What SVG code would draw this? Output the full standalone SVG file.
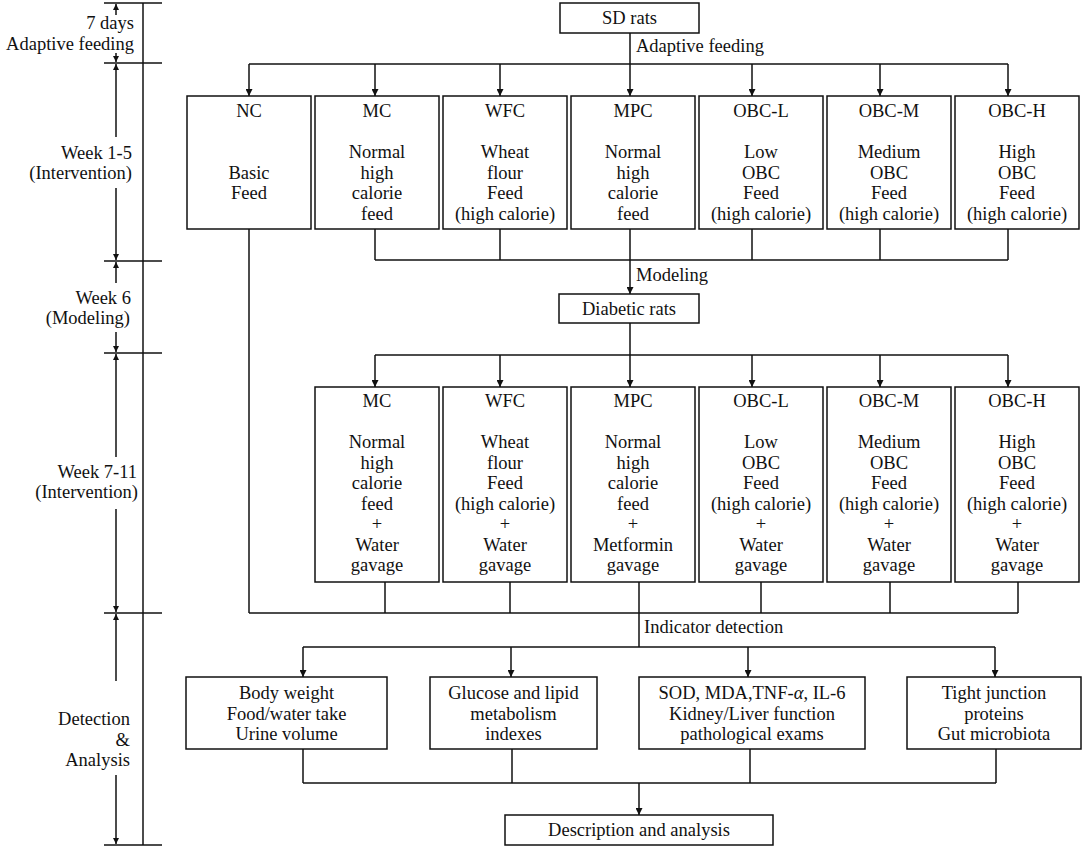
<svg xmlns="http://www.w3.org/2000/svg" width="1084" height="848" viewBox="0 0 1084 848">
<style>
text{font-family:"Liberation Serif","Times New Roman",serif;font-size:18.5px;fill:#111;}
.c{text-anchor:middle;}
.e{text-anchor:end;}
.box{fill:#fff;stroke:#111;stroke-width:1.5;}
.ln{fill:none;stroke:#111;stroke-width:1.5;}
.ar{fill:none;stroke:#111;stroke-width:1.5;marker-end:url(#ah);}
.tl{fill:none;stroke:#111;stroke-width:1.5;marker-end:url(#th);}
</style>
<defs>
<marker id="ah" viewBox="0 0 10 10" refX="10" refY="5" markerWidth="8" markerHeight="7" markerUnits="userSpaceOnUse" orient="auto"><path d="M0,0 L10,5 L0,10 z" fill="#111"/></marker>
<marker id="th" viewBox="0 0 10 10" refX="10" refY="5" markerWidth="7" markerHeight="6" markerUnits="userSpaceOnUse" orient="auto"><path d="M0,0 L10,5 L0,10 z" fill="#111"/></marker>
</defs>
<rect width="1084" height="848" fill="#fff"/>

<g id="timeline">
<line class="ln" x1="143" y1="3" x2="143" y2="845"/>
<line class="ln" x1="104" y1="3" x2="162" y2="3"/>
<line class="ln" x1="104" y1="63" x2="162" y2="63"/>
<line class="ln" x1="104" y1="261" x2="162" y2="261"/>
<line class="ln" x1="104" y1="353" x2="162" y2="353"/>
<line class="ln" x1="104" y1="613" x2="162" y2="613"/>
<line class="ln" x1="104" y1="845" x2="162" y2="845"/>
<line class="tl" x1="116" y1="15" x2="116" y2="4"/>
<line class="tl" x1="116" y1="53" x2="116" y2="62"/>
<line class="tl" x1="116" y1="137" x2="116" y2="64"/>
<line class="tl" x1="116" y1="188" x2="116" y2="260"/>
<line class="tl" x1="116" y1="283" x2="116" y2="262"/>
<line class="tl" x1="116" y1="332" x2="116" y2="352"/>
<line class="tl" x1="116" y1="457" x2="116" y2="354"/>
<line class="tl" x1="116" y1="509" x2="116" y2="612"/>
<line class="tl" x1="116" y1="681" x2="116" y2="614"/>
<line class="tl" x1="116" y1="775" x2="116" y2="844"/>
<text class="e" x="134" y="29">7 days</text>
<text class="e" x="134" y="50">Adaptive feeding</text>
<text class="e" x="132" y="159">Week 1-5</text>
<text class="e" x="132" y="179">(Intervention)</text>
<text class="e" x="131" y="304">Week 6</text>
<text class="e" x="130" y="324">(Modeling)</text>
<text class="e" x="137" y="478">Week 7-11</text>
<text class="e" x="138" y="498">(Intervention)</text>
<text class="e" x="130" y="725">Detection</text>
<text class="e" x="130" y="746">&amp;</text>
<text class="e" x="130" y="766">Analysis</text>
</g>

<g id="connectors">
<line class="ar" x1="630" y1="33" x2="630" y2="96"/>
<line class="ln" x1="249" y1="64" x2="1008" y2="64"/>
<line class="ar" x1="249" y1="64" x2="249" y2="96"/>
<line class="ar" x1="375" y1="64" x2="375" y2="96"/>
<line class="ar" x1="500" y1="64" x2="500" y2="96"/>
<line class="ar" x1="752" y1="64" x2="752" y2="96"/>
<line class="ar" x1="880" y1="64" x2="880" y2="96"/>
<line class="ar" x1="1008" y1="64" x2="1008" y2="96"/>
<text x="636" y="52">Adaptive feeding</text>

<line class="ln" x1="375" y1="229" x2="375" y2="260"/>
<line class="ln" x1="500" y1="229" x2="500" y2="260"/>
<line class="ln" x1="752" y1="229" x2="752" y2="260"/>
<line class="ln" x1="880" y1="229" x2="880" y2="260"/>
<line class="ln" x1="1008" y1="229" x2="1008" y2="260"/>
<line class="ln" x1="375" y1="260" x2="1008" y2="260"/>
<line class="ar" x1="630" y1="229" x2="630" y2="294"/>
<text x="636" y="281">Modeling</text>

<line class="ln" x1="249" y1="229" x2="249" y2="613"/>

<line class="ar" x1="630" y1="323" x2="630" y2="387"/>
<line class="ln" x1="375" y1="355" x2="1008" y2="355"/>
<line class="ar" x1="375" y1="355" x2="375" y2="387"/>
<line class="ar" x1="500" y1="355" x2="500" y2="387"/>
<line class="ar" x1="752" y1="355" x2="752" y2="387"/>
<line class="ar" x1="880" y1="355" x2="880" y2="387"/>
<line class="ar" x1="1008" y1="355" x2="1008" y2="387"/>

<line class="ln" x1="385" y1="582" x2="385" y2="613"/>
<line class="ln" x1="510" y1="582" x2="510" y2="613"/>
<line class="ln" x1="761" y1="582" x2="761" y2="613"/>
<line class="ln" x1="890" y1="582" x2="890" y2="613"/>
<line class="ln" x1="1018" y1="582" x2="1018" y2="613"/>
<line class="ln" x1="249" y1="613" x2="1018" y2="613"/>
<line class="ln" x1="639" y1="582" x2="639" y2="647"/>
<text x="644" y="633">Indicator detection</text>

<line class="ln" x1="303" y1="647" x2="995" y2="647"/>
<line class="ar" x1="303" y1="647" x2="303" y2="677"/>
<line class="ar" x1="511" y1="647" x2="511" y2="677"/>
<line class="ar" x1="748" y1="647" x2="748" y2="677"/>
<line class="ar" x1="995" y1="647" x2="995" y2="677"/>

<line class="ln" x1="303" y1="749" x2="303" y2="783"/>
<line class="ln" x1="512" y1="749" x2="512" y2="783"/>
<line class="ln" x1="750" y1="749" x2="750" y2="783"/>
<line class="ln" x1="996" y1="749" x2="996" y2="783"/>
<line class="ln" x1="303" y1="783" x2="996" y2="783"/>
<line class="ar" x1="639" y1="783" x2="639" y2="815"/>
</g>

<g id="sd-rats">
<rect class="box" x="560" y="3" width="139" height="30"/>
<text class="c" x="629.5" y="24">SD rats</text>
</g>

<g id="nc1">
<rect class="box" x="187" y="96" width="124" height="133"/>
<text class="c" x="249" y="117">NC</text>
<text class="c" x="249" y="178.5">Basic</text>
<text class="c" x="249" y="199">Feed</text>
</g>
<g id="mc1">
<rect class="box" x="315" y="96" width="124" height="133"/>
<text class="c" x="377" y="117">MC</text>
<text class="c" x="377" y="158">Normal</text>
<text class="c" x="377" y="178.5">high</text>
<text class="c" x="377" y="199">calorie</text>
<text class="c" x="377" y="219.5">feed</text>
</g>
<g id="wfc1">
<rect class="box" x="443" y="96" width="124" height="133"/>
<text class="c" x="505" y="117">WFC</text>
<text class="c" x="505" y="158">Wheat</text>
<text class="c" x="505" y="178.5">flour</text>
<text class="c" x="505" y="199">Feed</text>
<text class="c" x="505" y="219.5">(high calorie)</text>
</g>
<g id="mpc1">
<rect class="box" x="571" y="96" width="124" height="133"/>
<text class="c" x="633" y="117">MPC</text>
<text class="c" x="633" y="158">Normal</text>
<text class="c" x="633" y="178.5">high</text>
<text class="c" x="633" y="199">calorie</text>
<text class="c" x="633" y="219.5">feed</text>
</g>
<g id="obcl1">
<rect class="box" x="699" y="96" width="124" height="133"/>
<text class="c" x="761" y="117">OBC-L</text>
<text class="c" x="761" y="158">Low</text>
<text class="c" x="761" y="178.5">OBC</text>
<text class="c" x="761" y="199">Feed</text>
<text class="c" x="761" y="219.5">(high calorie)</text>
</g>
<g id="obcm1">
<rect class="box" x="827" y="96" width="124" height="133"/>
<text class="c" x="889" y="117">OBC-M</text>
<text class="c" x="889" y="158">Medium</text>
<text class="c" x="889" y="178.5">OBC</text>
<text class="c" x="889" y="199">Feed</text>
<text class="c" x="889" y="219.5">(high calorie)</text>
</g>
<g id="obch1">
<rect class="box" x="955" y="96" width="124" height="133"/>
<text class="c" x="1017" y="117">OBC-H</text>
<text class="c" x="1017" y="158">High</text>
<text class="c" x="1017" y="178.5">OBC</text>
<text class="c" x="1017" y="199">Feed</text>
<text class="c" x="1017" y="219.5">(high calorie)</text>
</g>

<g id="diabetic-rats">
<rect class="box" x="559" y="294" width="140" height="29"/>
<text class="c" x="629" y="315">Diabetic rats</text>
</g>

<g id="mc2">
<rect class="box" x="315" y="387" width="124" height="195"/>
<text class="c" x="377" y="407">MC</text>
<text class="c" x="377" y="448">Normal</text>
<text class="c" x="377" y="468.5">high</text>
<text class="c" x="377" y="489">calorie</text>
<text class="c" x="377" y="509.5">feed</text>
<text class="c" x="377" y="530">+</text>
<text class="c" x="377" y="550.5">Water</text>
<text class="c" x="377" y="571">gavage</text>
</g>
<g id="wfc2">
<rect class="box" x="443" y="387" width="124" height="195"/>
<text class="c" x="505" y="407">WFC</text>
<text class="c" x="505" y="448">Wheat</text>
<text class="c" x="505" y="468.5">flour</text>
<text class="c" x="505" y="489">Feed</text>
<text class="c" x="505" y="509.5">(high calorie)</text>
<text class="c" x="505" y="530">+</text>
<text class="c" x="505" y="550.5">Water</text>
<text class="c" x="505" y="571">gavage</text>
</g>
<g id="mpc2">
<rect class="box" x="571" y="387" width="124" height="195"/>
<text class="c" x="633" y="407">MPC</text>
<text class="c" x="633" y="448">Normal</text>
<text class="c" x="633" y="468.5">high</text>
<text class="c" x="633" y="489">calorie</text>
<text class="c" x="633" y="509.5">feed</text>
<text class="c" x="633" y="530">+</text>
<text class="c" x="633" y="550.5">Metformin</text>
<text class="c" x="633" y="571">gavage</text>
</g>
<g id="obcl2">
<rect class="box" x="699" y="387" width="124" height="195"/>
<text class="c" x="761" y="407">OBC-L</text>
<text class="c" x="761" y="448">Low</text>
<text class="c" x="761" y="468.5">OBC</text>
<text class="c" x="761" y="489">Feed</text>
<text class="c" x="761" y="509.5">(high calorie)</text>
<text class="c" x="761" y="530">+</text>
<text class="c" x="761" y="550.5">Water</text>
<text class="c" x="761" y="571">gavage</text>
</g>
<g id="obcm2">
<rect class="box" x="827" y="387" width="124" height="195"/>
<text class="c" x="889" y="407">OBC-M</text>
<text class="c" x="889" y="448">Medium</text>
<text class="c" x="889" y="468.5">OBC</text>
<text class="c" x="889" y="489">Feed</text>
<text class="c" x="889" y="509.5">(high calorie)</text>
<text class="c" x="889" y="530">+</text>
<text class="c" x="889" y="550.5">Water</text>
<text class="c" x="889" y="571">gavage</text>
</g>
<g id="obch2">
<rect class="box" x="955" y="387" width="124" height="195"/>
<text class="c" x="1017" y="407">OBC-H</text>
<text class="c" x="1017" y="448">High</text>
<text class="c" x="1017" y="468.5">OBC</text>
<text class="c" x="1017" y="489">Feed</text>
<text class="c" x="1017" y="509.5">(high calorie)</text>
<text class="c" x="1017" y="530">+</text>
<text class="c" x="1017" y="550.5">Water</text>
<text class="c" x="1017" y="571">gavage</text>
</g>

<g id="ind-body">
<rect class="box" x="186" y="677" width="201" height="72"/>
<text class="c" x="286.5" y="699">Body weight</text>
<text class="c" x="286.5" y="719.5">Food/water take</text>
<text class="c" x="286.5" y="740">Urine volume</text>
</g>
<g id="ind-glucose">
<rect class="box" x="430" y="677" width="167" height="72"/>
<text class="c" x="513.5" y="699">Glucose and lipid</text>
<text class="c" x="513.5" y="719.5">metabolism</text>
<text class="c" x="513.5" y="740">indexes</text>
</g>
<g id="ind-sod">
<rect class="box" x="639" y="677" width="226" height="72"/>
<text class="c" x="752" y="699">SOD, MDA,TNF-<tspan font-style="italic">α</tspan>, IL-6</text>
<text class="c" x="752" y="719.5">Kidney/Liver function</text>
<text class="c" x="752" y="740">pathological exams</text>
</g>
<g id="ind-tight">
<rect class="box" x="907" y="677" width="174" height="72"/>
<text class="c" x="994" y="699">Tight junction</text>
<text class="c" x="994" y="719.5">proteins</text>
<text class="c" x="994" y="740">Gut microbiota</text>
</g>

<g id="description">
<rect class="box" x="505" y="815" width="268" height="30"/>
<text class="c" x="639" y="836">Description and analysis</text>
</g>
</svg>
